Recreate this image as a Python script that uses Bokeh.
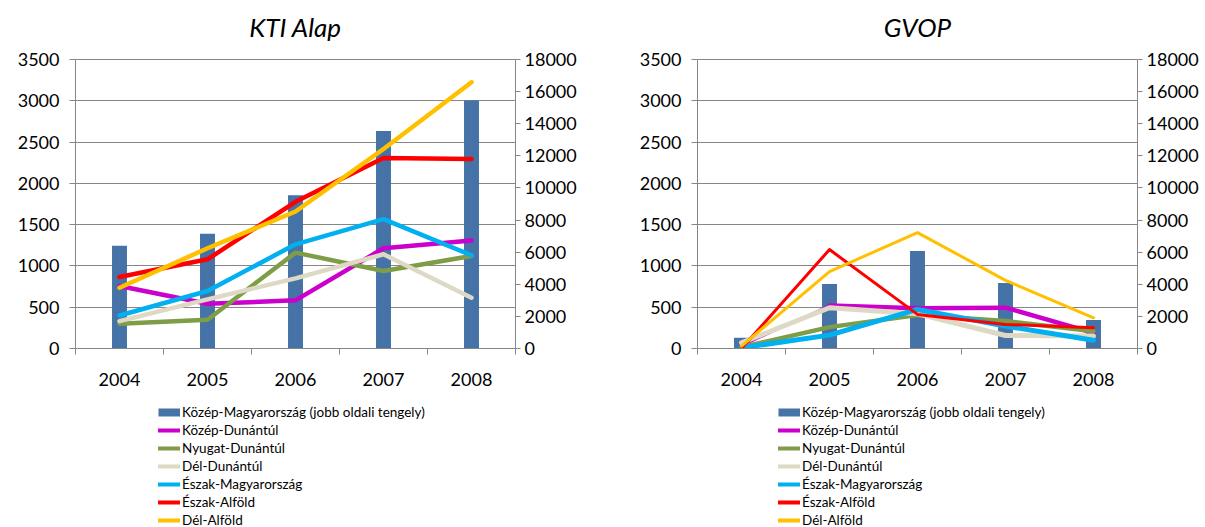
from bokeh.plotting import figure
from bokeh.models import Range1d, LinearAxis, FixedTicker, Legend, LegendItem, Label
from bokeh.layouts import row, column
from bokeh.embed import file_html
from bokeh.resources import INLINE

years = [2004, 2005, 2006, 2007, 2008]
bar_name = "Közép-Magyarország (jobb oldali tengely)"
line_names = ["Közép-Dunántúl", "Nyugat-Dunántúl", "Dél-Dunántúl",
              "Észak-Magyarország", "Észak-Alföld", "Dél-Alföld"]
left_ticks = [0, 500, 1000, 1500, 2000, 2500, 3000, 3500]
right_ticks = [0, 2000, 4000, 6000, 8000, 10000, 12000, 14000, 16000, 18000]

# KTI Alap
kti_kozep_magyarorszag = [6400, 7150, 9550, 13550, 15450]
kti_kozep_dunantul = [757, 542, 583, 1214, 1307]
kti_nyugat_dunantul = [299, 348, 1161, 939, 1121]
kti_del_dunantul = [332, 595, 850, 1141, 615]
kti_eszak_magyarorszag = [400, 696, 1262, 1566, 1129]
kti_eszak_alfold = [866, 1080, 1776, 2306, 2294]
kti_del_alfold = [736, 1214, 1659, 2416, 3225]

# GVOP
gvop_kozep_magyarorszag = [666, 4016, 6076, 4079, 1769]
gvop_kozep_dunantul = [28, 522, 486, 494, 190]
gvop_nyugat_dunantul = [16, 259, 405, 332, 210]
gvop_del_dunantul = [69, 494, 421, 158, 150]
gvop_eszak_magyarorszag = [8, 162, 473, 271, 101]
gvop_eszak_alfold = [0, 1198, 413, 291, 251]
gvop_del_alfold = [30, 931, 1404, 825, 372]

FONT = "Lato"
BAR_COLOR = "#4572A7"
LINE_COLORS = ["#CC00CC", "#7E9D47", "#DDD9C4", "#00B0F0", "#FF0000", "#FFC000"]
AXIS_GRAY = "#868686"
NAN = float("nan")

# frame geometry (px): the frame reaches the top edge so the title can sit in it;
# the value axes themselves stop at their top tick
FRAME_H = 348
AXIS_H = 289
TITLE_Y = 322


def style_axis(ax, tick_out, standoff):
    ax.major_tick_out = tick_out
    ax.major_tick_in = 0
    ax.minor_tick_out = 0
    ax.minor_tick_in = 0
    ax.major_tick_line_color = AXIS_GRAY
    ax.axis_line_color = AXIS_GRAY
    ax.major_label_standoff = standoff
    ax.major_label_text_font = FONT
    ax.major_label_text_font_size = "18px"
    ax.major_label_text_color = "black"


def make_chart(title, bars, lines, widths, width, border_left, border_right,
               thin_first=None):
    scale = FRAME_H / AXIS_H
    p = figure(width=width, height=FRAME_H + 50, output_backend="svg",
               toolbar_location=None,
               x_range=Range1d(years[0] - 0.5, years[-1] + 0.5),
               y_range=Range1d(0, left_ticks[-1] * scale),
               min_border_left=border_left, min_border_right=border_right,
               min_border_top=0, min_border_bottom=50)
    p.extra_y_ranges = {"right": Range1d(0, right_ticks[-1] * scale)}
    p.outline_line_color = None
    p.background_fill_color = "white"
    p.border_fill_color = "white"

    frame_w = width - border_left - border_right
    p.add_layout(Label(x=frame_w / 2, y=TITLE_Y, x_units="screen", y_units="screen",
                       text=title, text_align="center", text_baseline="middle",
                       text_font=FONT, text_font_size="26px", text_font_style="italic",
                       text_color="black"))

    # category axis: labels at the years, small ticks between them
    xa = p.xaxis[0]
    style_axis(xa, 0, 18)
    xa.ticker = FixedTicker(ticks=years,
                            minor_ticks=[y - 0.5 for y in years] + [years[-1] + 0.5])
    xa.minor_tick_out = 6
    xa.minor_tick_line_color = AXIS_GRAY

    ya = p.yaxis[0]
    style_axis(ya, 6, 10)
    ya.ticker = FixedTicker(ticks=left_ticks)
    ya.bounds = (0, left_ticks[-1])

    ra = LinearAxis(y_range_name="right", ticker=FixedTicker(ticks=right_ticks),
                    bounds=(0, right_ticks[-1]))
    style_axis(ra, 5, 4)
    p.add_layout(ra, "right")

    p.xgrid.visible = False
    p.ygrid.ticker = FixedTicker(ticks=left_ticks)
    p.ygrid.grid_line_color = AXIS_GRAY
    p.ygrid.grid_line_width = 1

    p.vbar(x=years, top=bars, width=0.17, bottom=0, y_range_name="right",
           fill_color=BAR_COLOR, line_color=None)

    for i, (vals, color, w) in enumerate(zip(lines, LINE_COLORS, widths)):
        if thin_first is not None and i == thin_first:
            p.line(years[:2], vals[:2], line_color=color, line_width=2,
                   line_join="round", line_cap="round")
            p.line(years[1:], vals[1:], line_color=color, line_width=w,
                   line_join="round", line_cap="round")
        else:
            p.line(years, vals, line_color=color, line_width=w,
                   line_join="round", line_cap="round")
    return p


def make_legend(width, legend_x):
    lp = figure(width=width, height=129, output_backend="svg", toolbar_location=None,
                x_range=Range1d(0, 1), y_range=Range1d(0, 1),
                min_border=0, x_axis_type=None, y_axis_type=None)
    lp.outline_line_color = None
    lp.xgrid.visible = False
    lp.ygrid.visible = False
    lp.border_fill_color = "white"

    # swatch-only renderers (a single empty point each, nothing is drawn in the frame)
    items = []
    swatch = lp.line(x=[NAN], y=[NAN], line_color=BAR_COLOR, line_width=8,
                     line_cap="butt")
    items.append(LegendItem(label=bar_name, renderers=[swatch]))
    for name, color in zip(line_names, LINE_COLORS):
        r = lp.line(x=[NAN], y=[NAN], line_color=color, line_width=4, line_cap="round")
        items.append(LegendItem(label=name, renderers=[r]))

    legend = Legend(items=items, location=(legend_x, -2),
                    glyph_width=22, glyph_height=18, label_height=18,
                    label_standoff=2, spacing=0, padding=0, margin=0,
                    border_line_color=None, background_fill_alpha=0,
                    label_text_font=FONT, label_text_font_size="13.5px",
                    label_text_color="black")
    lp.add_layout(legend, "center")
    return lp


p1 = make_chart("KTI Alap", kti_kozep_magyarorszag,
                [kti_kozep_dunantul, kti_nyugat_dunantul, kti_del_dunantul,
                 kti_eszak_magyarorszag, kti_eszak_alfold, kti_del_alfold],
                [4.5, 4.5, 4.5, 4.5, 4.5, 4.5],
                width=602, border_left=75, border_right=87)

p2 = make_chart("GVOP", gvop_kozep_magyarorszag,
                [gvop_kozep_dunantul, gvop_nyugat_dunantul, gvop_del_dunantul,
                 gvop_eszak_magyarorszag, gvop_eszak_alfold, gvop_del_alfold],
                [4.5, 4.5, 5, 5, 3, 3],
                width=603, border_left=95, border_right=68,
                thin_first=0)

l1 = make_legend(602, 158)
l2 = make_legend(603, 176)

layout = column(row(p1, p2), row(l1, l2))
open("out.html", "w").write(file_html(layout, INLINE))
